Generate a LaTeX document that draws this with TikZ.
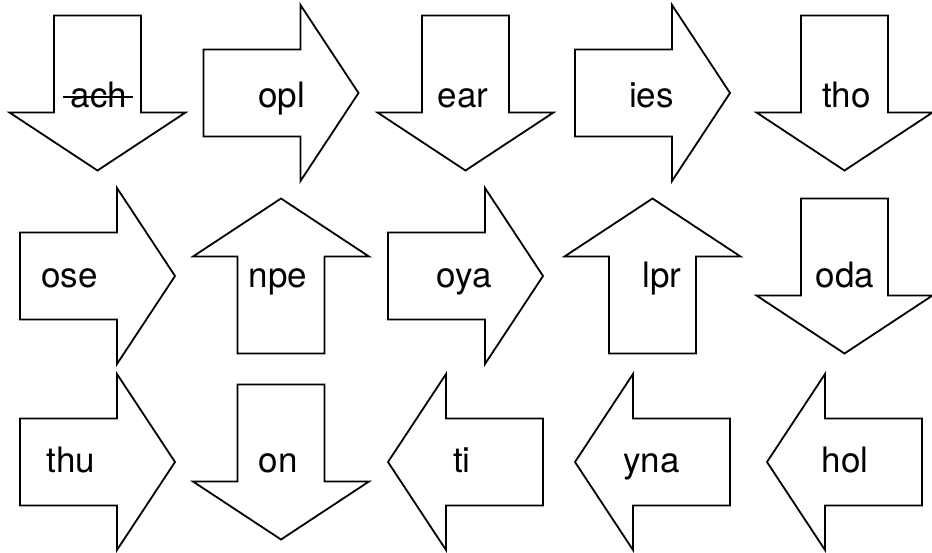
\documentclass[tikz,border=0pt]{standalone}
\usepackage{fontspec}
\setmainfont{TeX Gyre Heros}
\usetikzlibrary{calc}
\tikzset{
  arrowline/.style={draw=black,line width=1.8pt,line join=miter,fill=white},
  bigarrow/.pic={\path[arrowline] (-77.5,-43.5) -- (19.5,-43.5) -- (19.5,-88) -- (77.5,0) -- (19.5,88) -- (19.5,43.5) -- (-77.5,43.5) -- cycle;},
  lbl/.style={anchor=base,inner sep=0pt,font=\fontsize{35}{42}\selectfont},
  strike/.style={draw=black,line width=1.8pt}
}
\begin{document}
\begin{tikzpicture}[x=1pt,y=-1pt]
\useasboundingbox (0,0) rectangle (932,552);
% row 1
\pic[rotate=-90] at (97.5,93) {bigarrow};
\pic at (281,93) {bigarrow};
\pic[rotate=-90] at (465.5,93) {bigarrow};
\pic at (652.5,93) {bigarrow};
\pic[rotate=-90] at (844.5,93) {bigarrow};
% row 2
\pic at (97.5,276) {bigarrow};
\pic[rotate=90] at (281,276) {bigarrow};
\pic at (465.5,276) {bigarrow};
\pic[rotate=90] at (652.5,276) {bigarrow};
\pic[rotate=-90] at (844.5,276) {bigarrow};
% row 3
\pic at (97.5,462) {bigarrow};
\pic[rotate=-90] at (281,462) {bigarrow};
\pic[rotate=180] at (465.5,462) {bigarrow};
\pic[rotate=180] at (652.5,462) {bigarrow};
\pic[rotate=180] at (844.5,462) {bigarrow};
% labels
\node[lbl] (ach) at (99,107) {ach};
\node[lbl] (opl) at (281.5,107) {opl};
\node[lbl] (ear) at (463,107) {ear};
\node[lbl] (ies) at (651.5,107) {ies};
\node[lbl] (tho) at (846.5,107) {tho};
\node[lbl] (ose) at (69.5,287) {ose};
\node[lbl] (npe) at (278,287) {npe};
\node[lbl] (oya) at (464,287) {oya};
\node[lbl] (lpr) at (662,287) {lpr};
\node[lbl] (oda) at (845,287) {oda};
\node[lbl] (thu) at (71,472.5) {thu};
\node[lbl] (on) at (278,472.5) {on};
\node[lbl] (ti) at (462,472.5) {ti};
\node[lbl] (yna) at (651.7,472.5) {yna};
\node[lbl] (hol) at (845,472.5) {hol};
\draw[strike] ($(ach.base)+(-36,-10)$) -- ($(ach.base)+(34,-10)$);
\end{tikzpicture}
\end{document}
